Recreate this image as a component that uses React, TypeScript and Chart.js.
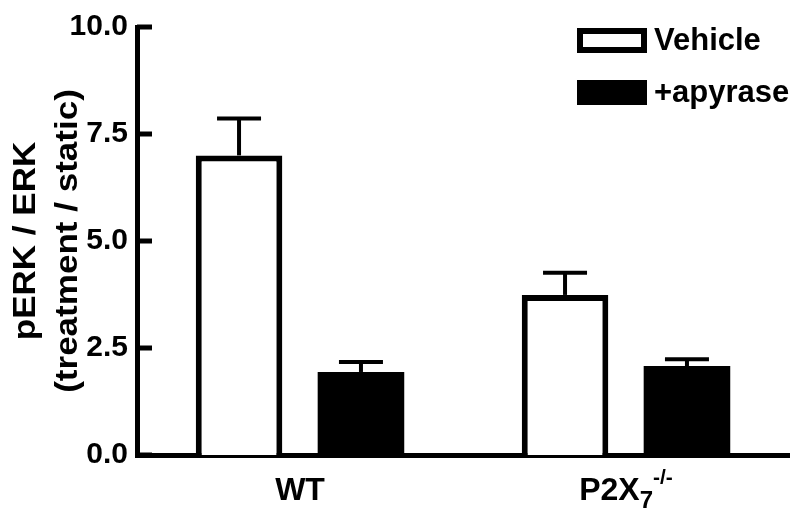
import React, { useEffect, useRef } from "react";
import { Chart, registerables } from "chart.js";

Chart.register(...registerables);

// ---- data ----
const categories = ["WT", "P2X7-/-"];
const seriesNames = ["Vehicle", "+apyrase"];
const vehicleMeans = [7.0, 3.74];
const vehicleErrors = [0.86, 0.52];
const apyraseMeans = [1.94, 2.08];
const apyraseErrors = [0.23, 0.16];
const yTicks = [0, 2.5, 5, 7.5, 10];
const yTitleLines = ["pERK / ERK", "(treatment / static)"];
// category label pieces (main text, subscript, superscript)
const categoryLabelParts = [
  [{ t: "WT", k: "main" }],
  [
    { t: "P2X", k: "main" },
    { t: "7", k: "sub" },
    { t: "-/-", k: "sup" },
  ],
];

const FONT = "'Liberation Sans', Arial, Helvetica, sans-serif";
const errorsByDataset = [vehicleErrors, apyraseErrors];
const meansByDataset = [vehicleMeans, apyraseMeans];

const customPlugin = {
  id: "customDraw",
  afterDatasetsDraw(chart: any) {
    const ctx = chart.ctx;
    const yScale = chart.scales.y;
    ctx.save();
    ctx.strokeStyle = "#000";
    ctx.lineWidth = 4;
    ctx.lineCap = "butt";
    chart.data.datasets.forEach((ds: any, i: number) => {
      const meta = chart.getDatasetMeta(i);
      meta.data.forEach((el: any, j: number) => {
        const top = yScale.getPixelForValue(meansByDataset[i][j] + errorsByDataset[i][j]);
        const x = el.x;
        ctx.beginPath();
        ctx.moveTo(x, el.y);
        ctx.lineTo(x, top);
        ctx.stroke();
        ctx.beginPath();
        ctx.moveTo(x - 22, top);
        ctx.lineTo(x + 22, top);
        ctx.stroke();
      });
    });
    ctx.restore();
  },
  afterDraw(chart: any) {
    const ctx = chart.ctx;
    const ca = chart.chartArea;
    const yScale = chart.scales.y;
    const xScale = chart.scales.x;
    ctx.save();

    // inward y ticks
    ctx.strokeStyle = "#000";
    ctx.lineWidth = 5;
    yTicks.forEach((v) => {
      const y = yScale.getPixelForValue(v);
      ctx.beginPath();
      ctx.moveTo(ca.left, y);
      ctx.lineTo(ca.left + 15, y);
      ctx.stroke();
    });

    // y title (two lines, rotated)
    const cy = (ca.top + ca.bottom) / 2;
    const baselines = [35, 77];
    yTitleLines.forEach((line, i) => {
      ctx.save();
      ctx.translate(baselines[i], cy);
      ctx.rotate(-Math.PI / 2);
      ctx.scale(1.13, 1);
      ctx.fillStyle = "#000";
      ctx.font = `bold 31px ${FONT}`;
      ctx.textAlign = "center";
      ctx.textBaseline = "alphabetic";
      ctx.fillText(line, 0, 0);
      ctx.restore();
    });

    // x category labels with sub/superscripts
    const fonts: any = {
      main: { f: `bold 32px ${FONT}`, dy: 0 },
      sub: { f: `bold 24px ${FONT}`, dy: 8 },
      sup: { f: `bold 21px ${FONT}`, dy: -16 },
    };
    const baseY = ca.bottom + 45;
    categoryLabelParts.forEach((parts, i) => {
      const cx = xScale.getPixelForValue(i);
      let total = 0;
      const widths = parts.map((p) => {
        ctx.font = fonts[p.k].f;
        const w = ctx.measureText(p.t).width;
        total += w;
        return w;
      });
      let x = cx - total / 2;
      ctx.fillStyle = "#000";
      ctx.textAlign = "left";
      ctx.textBaseline = "alphabetic";
      parts.forEach((p, k) => {
        ctx.font = fonts[p.k].f;
        ctx.fillText(p.t, x, baseY + fonts[p.k].dy);
        x += widths[k];
      });
    });

    // legend
    const lx = ca.right - 212;
    const ly = ca.top + 1;
    const bw = 70, bh = 25, gap = 52;
    chart.data.datasets.forEach((ds: any, i: number) => {
      const y = ly + i * gap;
      ctx.fillStyle = ds.borderColor;
      ctx.fillRect(lx, y, bw, bh);
      ctx.fillStyle = ds.backgroundColor;
      ctx.fillRect(lx + 6, y + 6, bw - 12, bh - 12);
      ctx.fillStyle = "#000";
      ctx.font = `bold 31px ${FONT}`;
      ctx.textAlign = "left";
      ctx.textBaseline = "middle";
      ctx.fillText(ds.label, lx + bw + 7, y + bh / 2 + 1);
    });

    ctx.restore();
  },
};

export default function App() {
  const ref = useRef<HTMLCanvasElement | null>(null);
  useEffect(() => {
    if (!ref.current) return;
    const chart = new Chart(ref.current, {
      type: "bar",
      data: {
        labels: categories,
        datasets: [
          {
            label: seriesNames[0],
            data: vehicleMeans,
            backgroundColor: "#ffffff",
            borderColor: "#000000",
            borderWidth: 6,
          },
          {
            label: seriesNames[1],
            data: apyraseMeans,
            backgroundColor: "#000000",
            borderColor: "#000000",
            borderWidth: 0,
          },
        ],
      },
      options: {
        responsive: false,
        animation: false,
        devicePixelRatio: 1,
        layout: { padding: { top: 22, right: 11, left: 0, bottom: 0 } },
        datasets: {
          bar: { categoryPercentage: 0.748, barPercentage: 0.71 },
        },
        plugins: {
          legend: { display: false },
          tooltip: { enabled: false },
        },
        scales: {
          x: {
            grid: { display: false, drawTicks: false },
            border: { display: true, color: "#000", width: 5 },
            ticks: { display: false },
            afterFit: (s: any) => {
              s.height = 63;
            },
          },
          y: {
            min: 0,
            max: 10,
            afterBuildTicks: (s: any) => {
              s.ticks = yTicks.map((v) => ({ value: v }));
            },
            grid: { display: false, drawTicks: false },
            border: { display: true, color: "#000", width: 5 },
            ticks: {
              padding: 9,
              color: "#000",
              font: { family: FONT, size: 30, weight: "bold" },
              callback: (v: any) => Number(v).toFixed(1),
            },
            afterFit: (s: any) => {
              s.width = 137;
            },
          },
        },
      },
      plugins: [customPlugin],
    } as any);
    return () => chart.destroy();
  }, []);
  return (
    <div style={{ position: "fixed", left: 0, top: 0, width: 800, height: 518, background: "#fff" }}>
      <canvas ref={ref} width={800} height={518} style={{ display: "block" }} />
    </div>
  );
}
